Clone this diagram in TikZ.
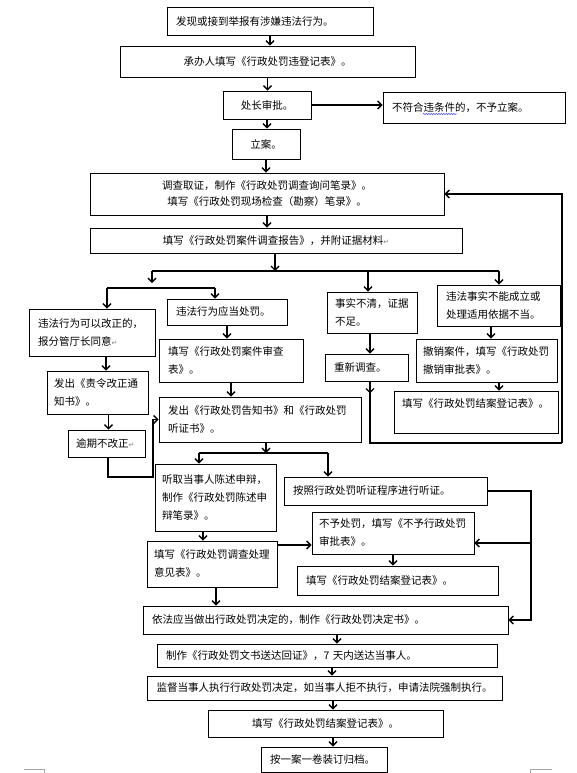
\documentclass[tikz,border=0pt]{standalone}
\usepackage{fontspec}
\setmainfont{Noto Sans CJK SC}
\newfontfamily\djv{DejaVu Sans}
\usetikzlibrary{arrows.meta,decorations.pathmorphing}
\newcommand{\rtn}{{\djv\fontsize{7}{7}\selectfont\color{gray}↵}}
\begin{document}
\begin{tikzpicture}[x=1pt,y=-1pt,
  bx/.style={draw, line width=0.9pt, inner xsep=9pt, inner ysep=0pt, font=\fontsize{10.5}{18}\selectfont, anchor=center},
  lt/.style={align=left, text width=#1},
  ct/.style={align=center},
  wh/.style 2 args={minimum width=#1, minimum height=#2},
  ln/.style={line width=1.3pt},
  arr/.style={ln, -{Straight Barb[length=4pt,width=8pt]}},
  pagemark/.style={draw=gray!70, line width=0.6pt}]
\useasboundingbox (0,0) rectangle (577,773);

% top chain
\node[bx, wh={206}{28}, lt=188] (n1) at (270,21) {发现或接到举报有涉嫌违法行为。};
\node[bx, wh={295}{31}, ct] (n2) at (267.5,61.5) {承办人填写《行政处罚违登记表》。};
\node[bx, wh={88}{28}, ct] (n3) at (267,105) {处长审批。};
\node[bx, wh={182}{31}, lt=164] (n4) at (474,107.5) {不符合违条件的，不予立案。};
\node[bx, wh={68}{30}, ct] (n5) at (266,144) {立案。};
\node[bx, wh={354}{42}, ct, font=\fontsize{10.5}{16}\selectfont] (n6) at (267,194) {调查取证，制作《行政处罚调查询问笔录》。\\填写《行政处罚现场检查（勘察）笔录》。};
\node[bx, wh={372}{25}, ct] (n7) at (276,240.5) {填写《行政处罚案件调查报告》，并附证据材料\rtn};

% branches
\node[bx, wh={126}{47}, lt=108] (n8) at (92,332.5) {违法行为可以改正的，\\报分管厅长同意\rtn};
\node[bx, wh={120}{26}, lt=102] (n9) at (227,312) {违法行为应当处罚。};
\node[bx, wh={144}{43}, lt=126] (n10) at (231,360.5) {填写《行政处罚案件审查\\表》。};
\node[bx, wh={101}{43}, inner xsep=7pt, lt=87] (n11) at (97.5,392.5) {发出《责令改正通\\知书》。};
\node[bx, wh={202}{45}, lt=184] (n12) at (260,419.5) {发出《行政处罚告知书》和《行政处罚\\听证书》。};
\node[bx, wh={77}{27}, inner xsep=8pt, lt=61] (n13) at (106.5,443.5) {逾期不改正\rtn};
\node[bx, wh={90}{41}, inner xsep=8pt, lt=74] (n14) at (372,312.5) {事实不清，证据\\不足。};
\node[bx, wh={123}{41}, lt=105] (n15) at (498.5,305.5) {违法事实不能成立或\\处理适用依据不当。};
\node[bx, wh={83}{27}, lt=65] (n16) at (366.5,367.5) {重新调查。};
\node[bx, wh={141}{43}, inner xsep=7pt, lt=127] (n17) at (486.5,360.5) {撤销案件，填写《行政处罚\\撤销审批表》。};
\node[bx, wh={164}{42}, inner xsep=8pt, lt=148] (n18) at (476,412) {填写《行政处罚结案登记表》。\\~};

\node[bx, wh={121}{67}, inner xsep=7pt, lt=107] (n19) at (215.5,497.5) {听取当事人陈述申辩，\\制作《行政处罚陈述申\\辩笔录》。};
\node[bx, wh={203}{28}, lt=185] (n20) at (385.5,491) {按照行政处罚听证程序进行听证。};
\node[bx, wh={162}{42}, inner xsep=7pt, lt=148] (n21) at (393,533) {不予处罚，填写《不予行政处罚\\审批表》。};
\node[bx, wh={130}{46}, inner xsep=7pt, lt=116] (n22) at (212,564) {填写《行政处罚调查处理\\意见表》。};
\node[bx, wh={201}{29}, lt=183] (n24) at (397.5,580.5) {填写《行政处罚结案登记表》。};

% bottom chain
\node[bx, wh={365}{28}, lt=347] (n23) at (325.5,620) {依法应当做出行政处罚决定的，制作《行政处罚决定书》。};
\node[bx, wh={340}{23}, lt=322] (n25) at (327,655.5) {制作《行政处罚文书送达回证》，7 天内送达当事人。};
\node[bx, wh={355}{24}, ct] (n26) at (324.5,688) {监督当事人执行行政处罚决定，如当事人拒不执行，申请法院强制执行。};
\node[bx, wh={235}{27}, ct] (n27) at (325.5,723.5) {填写《行政处罚结案登记表》。};
\node[bx, wh={126}{25}, lt=108] (n28) at (324,759.5) {按一案一卷装订归档。};

% spell-check squiggle
\draw[blue!70, line width=0.5pt, decorate, decoration={snake, amplitude=0.7pt, segment length=2.5pt}] (423,114) -- (457,114);

% junction coordinates
\coordinate (j1) at (275,271);
\coordinate (j1l) at (152,271);
\coordinate (j1m) at (368,271);
\coordinate (j1r) at (499,271);
\coordinate (j2l) at (107,288);
\coordinate (j2r) at (215,288);
\coordinate (lp) at (562,443);
\coordinate (lb) at (153,477);
\coordinate (j3) at (266,453);
\coordinate (j3l) at (199,453);
\coordinate (j3r) at (328,453);
\coordinate (rv) at (531,493);
\coordinate (rj) at (531,543);

% top connectors
\draw[arr] (n1.south) -- (n1.south |- n2.north);
\draw[arr] (n2.south) -- (n2.south |- n3.north);
\draw[arr] (n3.east) -- (n3.east -| n4.west);
\draw[arr] (n3.south) -- (n3.south |- n5.north);
\draw[arr] (n5.south) -- (n5.south |- n6.north);
\draw[arr] (n6.south) -- (n6.south |- n7.north);

% split
\draw[arr] (n7.south -| j1) -- (j1);
\draw[ln] (j1l) -- (j1r);
\draw[arr] (j1l) -- ++(0,12);
\draw[ln] (j2l) -- (j2r);
\draw[arr] (j2l) -- (j2l |- n8.north);
\draw[arr] (j2r) -- (j2r |- n9.north);
\draw[arr] (j1m) -- (j1m |- n14.north);
\draw[arr] (j1r) -- (j1r |- n15.north);

% right branches
\draw[arr] ([xshift=-2]n14.south) -- ([xshift=-2]n14.south |- n16.north);
\draw[arr] ([xshift=3.5]n16.south) -- ++(0,12);
\draw[ln] ([xshift=3.5]n16.south) |- (lp);
\draw[arr] (lp) |- (n6.east);
\draw[arr] ([xshift=-7.5]n15.south) -- ([xshift=-7.5]n15.south |- n17.north);
\draw[arr] ([xshift=12.5]n17.south) -- ([xshift=12.5]n17.south |- n18.north);

% left branches
\draw[arr] ([xshift=14]n8.south) -- ([xshift=14]n8.south |- n11.north);
\draw[arr] ([xshift=11]n11.south) -- ([xshift=11]n11.south |- n13.north);
\draw[arr] ([xshift=1.5]n13.south) |- (lb) |- (n12.west);
\draw[arr] (n9.south) -- (n9.south |- n10.north);
\draw[arr] (n10.south) -- (n10.south |- n12.north);

% hearing split
\draw[arr] (n12.south -| j3) -- (j3);
\draw[ln] (j3l) -- (j3r);
\draw[arr] (j3l) -- (j3l |- n19.north);
\draw[arr] (j3r) -- (j3r |- n20.north);
\draw[arr] (n20.east) -| (n23.east -| rv) -- (n23.east);
\draw[arr] (rj) -- (rj -| n21.east);
\draw[arr] ([xshift=-12.5]n19.south) -- ([xshift=-12.5]n19.south |- n22.north);
\draw[arr] ([yshift=19]n22.east) -- ([yshift=19]n22.east -| n21.west);
\draw[arr] (n21.south) -- (n21.south |- n24.north);
\draw[arr] ([xshift=4]n22.south) -- ([xshift=4]n22.south |- n23.north);

% bottom connectors
\draw[arr] ([xshift=11.5]n23.south) -- ([xshift=11.5]n23.south |- n25.north);
\draw[arr] ([xshift=5]n25.south) -- ([xshift=5]n25.south |- n26.north);
\draw[arr] ([xshift=8.5]n26.south) -- ([xshift=8.5]n26.south |- n27.north);
\draw[arr] ([xshift=7.5]n27.south) -- ([xshift=7.5]n27.south |- n28.north);

% page corner marks
\draw[pagemark] (24,769) -- (44,769) -- (44,773);
\draw[pagemark] (552,769) -- (530,769) -- (530,773);
\end{tikzpicture}
\end{document}
